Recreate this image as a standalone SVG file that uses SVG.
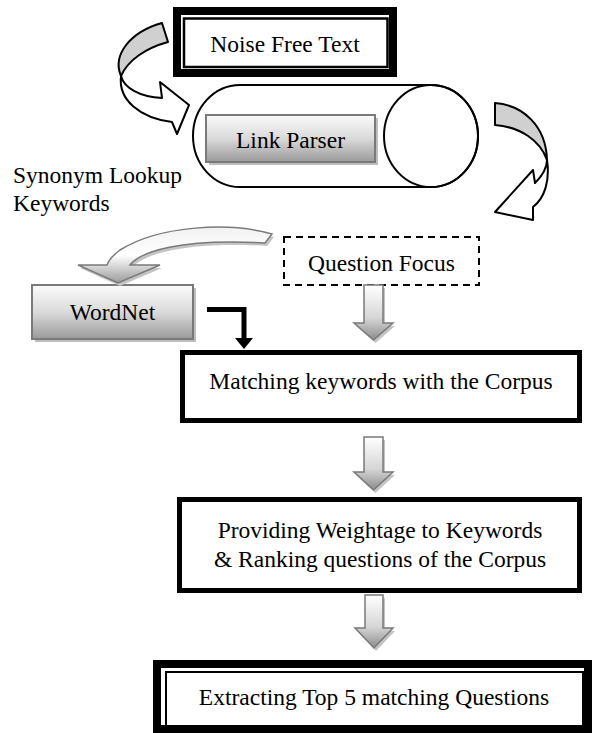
<svg xmlns="http://www.w3.org/2000/svg" width="592" height="733" viewBox="0 0 592 733">
<defs>
<linearGradient id="gbox" x1="0" y1="0" x2="0" y2="1">
<stop offset="0" stop-color="#fbfbfb"/><stop offset="0.5" stop-color="#dadada"/><stop offset="1" stop-color="#9a9a9a"/>
</linearGradient>
<linearGradient id="garr" x1="0" y1="0" x2="0" y2="1">
<stop offset="0" stop-color="#ffffff"/><stop offset="0.6" stop-color="#d6d6d6"/><stop offset="1" stop-color="#8c8c8c"/>
</linearGradient>
<linearGradient id="gcurve" x1="0" y1="0" x2="0" y2="1">
<stop offset="0" stop-color="#f2f2f2"/><stop offset="0.5" stop-color="#ffffff"/><stop offset="1" stop-color="#9a9a9a"/>
</linearGradient>
<style>
text{font-family:"Liberation Serif","Times New Roman",serif;font-size:23.5px;fill:#000}
.c{text-anchor:middle}
.thick{fill:#fff;stroke:#000;stroke-width:5}
.line{fill:none;stroke:#000;stroke-width:2}
.gbox{fill:url(#gbox);stroke:#7a7a7a;stroke-width:2}
.shadow{fill:#bdbdbd}
.garr{fill:url(#garr);stroke:#7a7a7a;stroke-width:1.5}
.ashadow{fill:#c4c4c4}
.curl{stroke:#000;stroke-width:2;stroke-linejoin:round}
</style>
</defs>

<g id="noise-free-text">
<rect x="177" y="11" width="216" height="62" fill="#fff" stroke="#000" stroke-width="8"/>
<rect x="184" y="18.5" width="203.5" height="48.5" fill="none" stroke="#000" stroke-width="2.5"/>
<text class="c" x="285" y="52">Noise Free Text</text>
</g>

<g id="link-parser">
<path class="line" d="M240,85 L431,85 A47,51 0 0 1 431,187 L240,187 A47,51 0 0 1 240,85 Z" fill="#fff"/>
<ellipse class="line" cx="431" cy="136" rx="47" ry="51" fill="#fff"/>
<rect class="shadow" x="209" y="118" width="169" height="47"/>
<rect class="gbox" x="206" y="115" width="169" height="47"/>
<text class="c" x="290.5" y="148">Link Parser</text>
</g>

<g id="synonym-label">
<text x="13" y="183">Synonym Lookup</text>
<text x="13" y="211">Keywords</text>
</g>

<g id="question-focus">
<rect x="284" y="237" width="195" height="48" fill="#fff" stroke="#000" stroke-width="2" stroke-dasharray="7,5"/>
<text class="c" x="381.5" y="271">Question Focus</text>
</g>

<g id="wordnet">
<rect class="shadow" x="35" y="288" width="161" height="54"/>
<rect class="gbox" x="32" y="285" width="161" height="54"/>
<text class="c" x="112.5" y="320">WordNet</text>
</g>

<g id="matching">
<rect class="thick" x="182.5" y="352.5" width="397" height="68"/>
<text class="c" x="381" y="389">Matching keywords with the Corpus</text>
</g>

<g id="weightage">
<rect class="thick" x="179.5" y="499.5" width="400" height="91"/>
<text class="c" x="380" y="538">Providing Weightage to Keywords</text>
<text class="c" x="380" y="567">&amp; Ranking questions of the Corpus</text>
</g>

<g id="extracting">
<rect x="157" y="664" width="431" height="65" fill="#fff" stroke="#000" stroke-width="8"/>
<rect x="166" y="672" width="417" height="54" fill="none" stroke="#000" stroke-width="2"/>
<text class="c" x="374" y="705">Extracting Top 5 matching Questions</text>
</g>

<g id="connectors">
<!-- curl from Noise Free Text to Link Parser -->
<path class="curl" fill="#fff" d="M121,76 C118,100 140,118 172,122 L177,134 L189,105 L160,82 L162,98 C140,97 124,88 121,76 Z"/>
<path class="curl" fill="#d0d0d0" d="M162,23 C130,32 112,55 121,76 C128,60 146,48 168,42 Z"/>
<!-- curl from Link Parser down to Question Focus -->
<path class="curl" fill="#fff" d="M547,160 C550,180 545,198 533,207 L533,220 L495,212 L533,170 L535,183 C543,175 547,168 547,160 Z"/>
<path class="curl" fill="#d0d0d0" d="M495,103 C522,105 546,125 547,160 C540,140 520,127 495,125 Z"/>
<!-- curved gray arrow to WordNet -->
<path class="ashadow" transform="translate(2,3)" d="M272,234 C230,222 160,225 120,250 C112,256 108,262 107,265 L78,265 L118,283 L160,265 L130,265 C140,252 180,238 265,243 Z"/>
<path fill="url(#gcurve)" stroke="#7a7a7a" stroke-width="1.5" d="M272,234 C230,222 160,225 120,250 C112,256 108,262 107,265 L78,265 L118,283 L160,265 L130,265 C140,252 180,238 265,243 Z"/>
<!-- black elbow arrow from WordNet -->
<polyline points="207,309.5 244,309.5 244,338" fill="none" stroke="#000" stroke-width="5"/>
<polygon points="235,338 253,338 244,349" fill="#000"/>
<!-- down arrows -->
<path class="ashadow" transform="translate(2,3)" d="M364,285 L383,285 L383,323 L393,323 L373.5,340 L354,323 L364,323 Z"/>
<path class="garr" d="M364,285 L383,285 L383,323 L393,323 L373.5,340 L354,323 L364,323 Z"/>
<path class="ashadow" transform="translate(2,3)" d="M364,437 L383,437 L383,472 L393,472 L373.5,490 L354,472 L364,472 Z"/>
<path class="garr" d="M364,437 L383,437 L383,472 L393,472 L373.5,490 L354,472 L364,472 Z"/>
<path class="ashadow" transform="translate(2,3)" d="M365,595 L383,595 L383,628 L393,628 L374,648 L355,628 L365,628 Z"/>
<path class="garr" d="M365,595 L383,595 L383,628 L393,628 L374,648 L355,628 L365,628 Z"/>
</g>
</svg>
